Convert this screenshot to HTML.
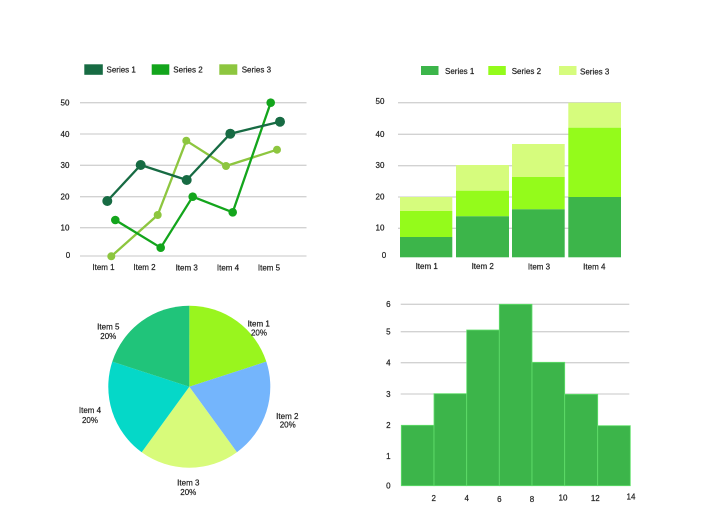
<!DOCTYPE html>
<html><head><meta charset="utf-8"><style>
html,body{margin:0;padding:0;background:#fff;}
svg{display:block;}
text{font-family:"Liberation Sans",sans-serif;font-size:8px;fill:#222;stroke:#222;stroke-width:0.2;}
</style></head><body>
<svg width="720" height="514" viewBox="0 0 720 514" xmlns="http://www.w3.org/2000/svg">
<rect width="720" height="514" fill="#fff"/>
<!-- LINE CHART -->
<g stroke="#d2d2d2" stroke-width="1.3">
<line x1="80" y1="102.7" x2="306.5" y2="102.7"/>
<line x1="80" y1="134" x2="306.5" y2="134"/>
<line x1="80" y1="165.3" x2="306.5" y2="165.3"/>
<line x1="80" y1="196.7" x2="306.5" y2="196.7"/>
<line x1="80" y1="227.7" x2="306.5" y2="227.7"/>
<line x1="80" y1="256" x2="306.5" y2="256"/>
</g>
<g text-anchor="middle">
<text x="65" y="105.5">50</text><text x="65" y="137">40</text><text x="65" y="168">30</text>
<text x="65" y="199.5">20</text><text x="65" y="230.5">10</text><text x="68" y="258">0</text>
<text x="103.5" y="270">Item 1</text><text x="144.5" y="270">Item 2</text><text x="186.7" y="270.5">Item 3</text>
<text x="228" y="270.5">Item 4</text><text x="269" y="270.5">Item 5</text>
</g>
<rect x="84.3" y="64.3" width="18.5" height="10.5" fill="#176b43"/>
<text x="106.5" y="72.5">Series 1</text>
<rect x="151.7" y="64.3" width="17.6" height="10.5" fill="#13a51c"/>
<text x="173.3" y="72.5">Series 2</text>
<rect x="219.3" y="64.3" width="18" height="10.5" fill="#8dc63f"/>
<text x="241.7" y="72.5">Series 3</text>
<g fill="none" stroke-width="2.3" stroke-linejoin="round">
<polyline stroke="#8dc63f" points="111.3,256.3 157.7,215 186.3,140.7 226,166 277,149.7"/>
<polyline stroke="#13a51c" points="115.3,220 160.7,247.7 192.7,196.7 232.7,212.3 270.7,102.7"/>
<polyline stroke="#176b43" points="107.3,201 140.7,165 186.7,180 230.3,133.7 280,121.7"/>
</g>
<g fill="#8dc63f">
<circle cx="111.3" cy="256.3" r="4"/><circle cx="157.7" cy="215" r="4"/><circle cx="186.3" cy="140.7" r="4"/><circle cx="226" cy="166" r="4"/><circle cx="277" cy="149.7" r="4"/>
</g>
<g fill="#13a51c">
<circle cx="115.3" cy="220" r="4.3"/><circle cx="160.7" cy="247.7" r="4.3"/><circle cx="192.7" cy="196.7" r="4.3"/><circle cx="232.7" cy="212.3" r="4.3"/><circle cx="270.7" cy="102.7" r="4.3"/>
</g>
<g fill="#176b43">
<circle cx="107.3" cy="201" r="5"/><circle cx="140.7" cy="165" r="5"/><circle cx="186.7" cy="180" r="5"/><circle cx="230.3" cy="133.7" r="5"/><circle cx="280" cy="121.7" r="5"/>
</g>

<!-- STACKED BAR CHART -->
<g stroke="#d2d2d2" stroke-width="1.3">
<line x1="398" y1="102.7" x2="621" y2="102.7"/>
<line x1="398" y1="134.3" x2="621" y2="134.3"/>
<line x1="398" y1="165.7" x2="621" y2="165.7"/>
<line x1="398" y1="197" x2="621" y2="197"/>
<line x1="398" y1="228.3" x2="621" y2="228.3"/>
</g>
<g text-anchor="middle">
<text x="380" y="104">50</text><text x="380" y="137">40</text><text x="380" y="168">30</text>
<text x="380" y="199.5">20</text><text x="380" y="230.5">10</text><text x="384" y="258">0</text>
<text x="426.7" y="269">Item 1</text><text x="482.7" y="269">Item 2</text><text x="539" y="269.5">Item 3</text><text x="594.3" y="269.5">Item 4</text>
</g>
<rect x="421" y="66" width="17.5" height="9" fill="#3cb54a"/>
<text x="445" y="74">Series 1</text>
<rect x="488.3" y="66" width="17.5" height="9" fill="#94fb1b"/>
<text x="511.7" y="74">Series 2</text>
<rect x="559" y="66" width="17.5" height="9" fill="#d6fc7d"/>
<text x="580" y="74.5">Series 3</text>
<!-- bars -->
<rect x="400" y="197" width="52.3" height="14" fill="#d6fc7d"/>
<rect x="400" y="211" width="52.3" height="26" fill="#94fb1b"/>
<rect x="400" y="237" width="52.3" height="20.3" fill="#3cb54a"/>
<rect x="456" y="165" width="53" height="25.7" fill="#d6fc7d"/>
<rect x="456" y="190.7" width="53" height="25.6" fill="#94fb1b"/>
<rect x="456" y="216.3" width="53" height="41" fill="#3cb54a"/>
<rect x="512" y="144" width="52.7" height="33" fill="#d6fc7d"/>
<rect x="512" y="177" width="52.7" height="32.3" fill="#94fb1b"/>
<rect x="512" y="209.3" width="52.7" height="48" fill="#3cb54a"/>
<rect x="568.3" y="102.7" width="52.7" height="25" fill="#d6fc7d"/>
<rect x="568.3" y="127.7" width="52.7" height="69.3" fill="#94fb1b"/>
<rect x="568.3" y="197" width="52.7" height="60.3" fill="#3cb54a"/>

<!-- PIE -->
<g transform="translate(189.3,386.7)">
<path d="M0,0 L0,-81 A81,81 0 0 1 77.04,-25.03 Z" fill="#99f51e"/>
<path d="M0,0 L77.04,-25.03 A81,81 0 0 1 47.61,65.53 Z" fill="#74b5fc"/>
<path d="M0,0 L47.61,65.53 A81,81 0 0 1 -47.61,65.53 Z" fill="#d8fb7a"/>
<path d="M0,0 L-47.61,65.53 A81,81 0 0 1 -77.04,-25.03 Z" fill="#05d8c8"/>
<path d="M0,0 L-77.04,-25.03 A81,81 0 0 1 0,-81 Z" fill="#20c47a"/>
</g>
<g text-anchor="middle">
<text x="258.7" y="326.3">Item 1</text><text x="259" y="335.7">20%</text>
<text x="287.3" y="419">Item 2</text><text x="287.7" y="427.7">20%</text>
<text x="188.3" y="485.3">Item 3</text><text x="188.3" y="495">20%</text>
<text x="90" y="413">Item 4</text><text x="90" y="423">20%</text>
<text x="108.3" y="329.7">Item 5</text><text x="108.3" y="339">20%</text>
</g>

<!-- HISTOGRAM -->
<g stroke="#d2d2d2" stroke-width="1.3">
<line x1="400.7" y1="304.3" x2="629.3" y2="304.3"/>
<line x1="400.7" y1="331.7" x2="629.3" y2="331.7"/>
<line x1="400.7" y1="362.7" x2="629.3" y2="362.7"/>
<line x1="400.7" y1="394" x2="629.3" y2="394"/>
</g>
<g fill="#3cb54a" stroke="#62e06c" stroke-width="0.8">
<rect x="401.3" y="425.3" width="32.7" height="60.4"/>
<rect x="434" y="393.7" width="32.7" height="92"/>
<rect x="466.7" y="330" width="32.6" height="155.7"/>
<rect x="499.3" y="304.3" width="32.7" height="181.4"/>
<rect x="532" y="362.3" width="32.7" height="123.4"/>
<rect x="564.7" y="394.3" width="33" height="91.4"/>
<rect x="597.7" y="425.7" width="32.6" height="60"/>
</g>
<g text-anchor="middle">
<text x="388.3" y="307">6</text><text x="388.3" y="334.5">5</text><text x="388.3" y="365.5">4</text>
<text x="388.3" y="397">3</text><text x="388.3" y="428">2</text><text x="388.3" y="459">1</text><text x="388.3" y="488.5">0</text>
<text x="433.7" y="501">2</text><text x="466.7" y="501">4</text><text x="499.3" y="502">6</text>
<text x="532" y="502">8</text><text x="563" y="500.5">10</text><text x="595.3" y="501">12</text><text x="631" y="499.5">14</text>
</g>
</svg>
</body></html>
